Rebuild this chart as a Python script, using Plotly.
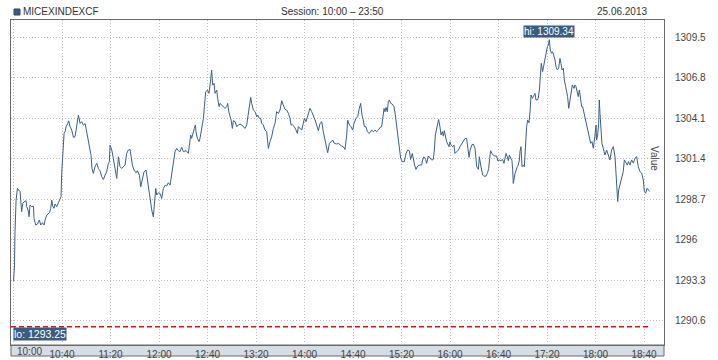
import plotly.graph_objects as go

# minutes since 10:00
t_min = [0, 0.8, 1.2, 2.1, 3.2, 4.0, 5.4, 5.9, 6.7, 7.6, 8.7, 10.3, 10.9, 12.0, 12.8, 13.6, 15.0, 16.4, 16.9, 18.3,
         19.7, 21.3, 22.4, 23.8, 25.2, 26.0, 27.4, 29.6, 30.7, 31.5, 32.3, 33.4, 34.2, 35.6, 37.0, 38.4, 39.2, 39.7, 40.6, 41.7,
         42.5, 43.3, 44.7, 45.5, 46.6, 48.0, 49.4, 50.7, 51.6, 52.7, 53.5, 54.9, 56.2, 57.6, 59.0, 59.8, 60.9, 62.0, 63.1, 63.9,
         64.7, 65.8, 67.2, 68.6, 70.0, 71.3, 72.7, 74.1, 75.5, 76.8, 78.2, 79.0, 79.6, 81.0, 82.3, 83.7, 85.1, 86.5, 87.8, 89.2,
         90.6, 92.0, 93.3, 94.7, 96.1, 96.9, 98.0, 99.4, 101.0, 102.1, 103.8, 104.9, 106.5, 107.6, 109.3, 110.4, 111.5, 112.6, 114.0, 115.3,
         116.2, 117.3, 118.1, 119.5, 120.8, 122.2, 123.6, 125.0, 126.3, 127.7, 129.1, 130.4, 131.8, 133.2, 134.6, 135.9, 137.3, 138.7, 140.1, 142.3,
         144.2, 145.0, 146.1, 146.9, 148.3, 149.1, 150.0, 150.5, 151.6, 153.0, 153.8, 155.2, 156.6, 157.4, 158.5, 159.9, 161.2, 162.1, 162.6, 163.4,
         164.3, 165.4, 166.2, 167.6, 168.4, 169.5, 170.3, 171.7, 173.1, 174.4, 175.8, 176.6, 177.5, 178.6, 179.4, 180.5, 181.3, 182.7, 184.1, 185.4,
         186.8, 188.2, 189.6, 190.9, 192.3, 193.7, 194.5, 195.6, 196.4, 197.8, 199.2, 200.6, 201.4, 202.7, 203.8, 204.7, 206.0, 207.4, 208.8, 210.2,
         211.5, 212.9, 214.3, 215.7, 217.0, 218.4, 219.8, 221.2, 222.5, 223.9, 225.3, 226.7, 228.0, 228.9, 230.2, 231.6, 233.0, 234.1, 234.9, 236.3,
         237.7, 239.0, 239.9, 241.2, 242.3, 243.2, 244.5, 245.9, 247.3, 248.7, 250.0, 251.4, 252.8, 254.2, 255.5, 256.9, 258.3, 259.1, 260.5, 261.9,
         263.2, 264.6, 266.5, 267.9, 269.3, 270.6, 272.0, 273.4, 274.8, 275.6, 277.0, 278.3, 279.7, 280.8, 282.5, 283.8, 285.2, 286.3, 287.4, 288.5,
         289.3, 290.7, 291.8, 293.2, 294.0, 295.4, 296.8, 298.1, 299.5, 300.9, 302.3, 303.6, 304.5, 305.6, 306.4, 307.2, 308.3, 309.1, 310.0, 311.1,
         312.4, 313.8, 314.9, 316.0, 317.1, 318.2, 319.3, 320.7, 322.3, 323.7, 325.1, 326.5, 327.5, 328.9, 329.7, 330.8, 331.9, 333.3, 335.2, 336.6,
         337.4, 338.5, 339.9, 340.7, 342.1, 343.5, 344.9, 346.2, 347.1, 347.9, 349.0, 349.8, 350.6, 351.7, 352.6, 353.7, 354.5, 355.3, 356.4, 357.2,
         358.1, 359.2, 360.0, 360.8, 362.2, 363.3, 364.1, 365.5, 366.9, 368.2, 369.6, 371.0, 372.4, 373.7, 374.6, 375.7, 376.5, 377.9, 379.2, 380.6,
         381.4, 382.0, 383.4, 384.2, 385.3, 386.1, 386.9, 388.0, 389.7, 390.8, 391.9, 392.7, 393.5, 394.6, 395.7, 397.1, 398.5, 399.3, 400.7, 402.0,
         403.4, 404.5, 405.3, 406.2, 407.3, 408.1, 408.9, 410.0, 411.1, 411.7, 412.2, 413.6, 414.4, 415.5, 416.3, 417.2, 417.7, 418.5, 419.4, 420.5,
         421.3, 422.1, 423.2, 424.0, 425.1, 426.0, 426.8, 427.9, 428.7, 430.1, 430.9, 432.0, 432.8, 433.7, 434.5, 435.3, 436.4, 437.5, 438.3, 439.2,
         440.3, 441.1, 441.9, 442.7, 443.8, 444.7, 445.8, 446.6, 447.4, 448.5, 449.6, 450.7, 451.5, 452.4, 453.5, 454.3, 455.4, 456.2, 457.0, 457.9,
         459.0, 459.8, 460.9, 462.3, 463.1, 463.9, 465.0, 465.8, 466.7, 467.5, 468.6, 469.4, 470.5, 471.6, 472.7, 474.1, 474.9, 476.0, 477.1, 478.2,
         479.6, 480.4, 480.9, 481.8, 482.6, 483.1, 483.7, 484.5, 485.3, 486.4, 487.8, 489.2, 490.6, 491.9, 493.3, 494.7, 496.1, 497.4, 498.3, 499.1,
         500.2, 501.6, 502.9, 503.8, 505.1, 506.2, 507.3, 508.4, 509.8, 511.2, 512.6, 513.9, 515.3, 516.7, 518.1, 519.4, 520.3, 521.4, 522.5, 523.6,
         524.7]

values = [1293.25, 1294.31, 1296.53, 1298.64, 1299.42, 1299.31, 1299.20, 1298.64, 1297.87, 1298.42, 1298.53, 1298.60, 1298.20, 1297.98, 1297.53, 1298.31, 1298.20, 1298.24, 1297.42, 1296.98,
          1297.04, 1297.31, 1296.98, 1297.13, 1296.98, 1297.31, 1297.64, 1297.80, 1298.09, 1298.64, 1298.24, 1298.09, 1298.38, 1298.20, 1298.47, 1298.69, 1298.87, 1300.42, 1301.98, 1303.09,
          1303.20, 1303.53, 1303.75, 1303.93, 1303.53, 1303.31, 1302.82, 1302.87, 1303.31, 1303.98, 1304.31, 1303.75, 1303.87, 1303.64, 1303.75, 1303.42, 1302.98, 1302.53, 1302.20, 1301.64,
          1300.75, 1300.42, 1300.87, 1301.09, 1300.75, 1300.60, 1300.20, 1300.02, 1300.31, 1300.53, 1301.09, 1301.20, 1302.31, 1301.98, 1301.42, 1300.87, 1300.09, 1301.53, 1300.87, 1300.75,
          1300.87, 1300.98, 1301.75, 1301.98, 1302.02, 1301.42, 1300.98, 1300.64, 1300.47, 1300.60, 1300.31, 1299.53, 1300.20, 1300.53, 1300.64, 1299.98, 1299.31, 1298.87, 1297.98, 1297.53,
          1298.42, 1299.42, 1298.98, 1299.13, 1299.09, 1298.75, 1299.42, 1299.64, 1299.58, 1299.80, 1299.64, 1300.42, 1301.31, 1301.87, 1302.09, 1301.94, 1301.87, 1302.16, 1301.87, 1301.94,
          1301.76, 1302.42, 1302.98, 1302.76, 1303.31, 1303.42, 1303.65, 1303.20, 1302.76, 1302.54, 1302.76, 1303.31, 1304.09, 1304.87, 1305.87, 1305.98, 1305.76, 1306.31, 1306.87, 1307.31,
          1306.31, 1306.42, 1305.76, 1305.98, 1305.42, 1304.87, 1305.09, 1304.98, 1304.82, 1304.76, 1304.87, 1305.09, 1304.54, 1304.20, 1303.98, 1303.42, 1303.94, 1303.87, 1303.54, 1303.65,
          1303.71, 1303.65, 1303.54, 1303.42, 1303.65, 1304.31, 1304.87, 1305.49, 1305.09, 1304.65, 1304.54, 1304.20, 1304.31, 1304.09, 1304.09, 1303.76, 1303.65, 1303.31, 1303.20, 1302.09,
          1302.54, 1302.87, 1303.42, 1303.76, 1304.54, 1304.42, 1304.65, 1305.27, 1304.98, 1304.69, 1304.65, 1304.42, 1304.09, 1303.65, 1303.65, 1303.54, 1303.31, 1303.09, 1303.54, 1303.42,
          1303.31, 1303.76, 1304.09, 1303.87, 1304.20, 1304.47, 1304.76, 1304.54, 1304.31, 1303.98, 1303.65, 1303.27, 1303.76, 1303.87, 1303.20, 1302.65, 1301.98, 1301.80, 1302.42, 1302.54,
          1302.65, 1302.42, 1302.38, 1302.42, 1302.31, 1302.25, 1302.20, 1302.02, 1302.98, 1303.98, 1303.65, 1303.54, 1303.31, 1303.76, 1304.09, 1304.20, 1304.76, 1305.09, 1304.31, 1303.98,
          1303.54, 1303.54, 1303.20, 1303.09, 1303.14, 1303.31, 1303.20, 1303.31, 1303.20, 1303.31, 1303.49, 1303.53, 1304.09, 1304.75, 1304.53, 1304.82, 1304.53, 1305.20, 1305.31, 1305.09,
          1305.04, 1304.87, 1304.31, 1303.53, 1302.75, 1302.09, 1301.42, 1301.20, 1301.20, 1301.75, 1301.98, 1301.93, 1301.35, 1301.75, 1301.31, 1300.98, 1300.69, 1300.91, 1300.98, 1300.98,
          1301.31, 1301.53, 1301.35, 1301.09, 1301.58, 1301.42, 1301.31, 1301.35, 1301.98, 1302.98, 1303.53, 1303.75, 1304.02, 1303.53, 1302.98, 1303.20, 1302.91, 1303.27, 1302.75, 1302.53,
          1302.38, 1302.20, 1302.53, 1302.31, 1302.20, 1302.31, 1301.75, 1301.87, 1301.98, 1302.20, 1302.42, 1302.60, 1302.75, 1302.75, 1302.31, 1301.49, 1301.93, 1302.31, 1302.38, 1302.09,
          1301.42, 1300.87, 1300.69, 1301.53, 1300.98, 1300.60, 1300.31, 1300.24, 1300.24, 1300.42, 1300.75, 1301.42, 1301.93, 1301.75, 1301.64, 1301.58, 1301.58, 1301.27, 1301.31, 1301.27,
          1301.35, 1301.09, 1301.42, 1301.75, 1301.53, 1301.27, 1301.64, 1301.42, 1301.27, 1300.64, 1299.75, 1300.42, 1300.69, 1300.87, 1300.98, 1301.31, 1301.87, 1302.20, 1300.87, 1300.98,
          1300.87, 1302.31, 1303.53, 1303.98, 1303.80, 1304.53, 1305.65, 1305.43, 1305.54, 1305.76, 1305.32, 1305.32, 1305.43, 1305.98, 1306.87, 1307.76, 1307.21, 1307.76, 1307.98, 1308.43,
          1308.87, 1308.98, 1309.34, 1308.65, 1308.43, 1308.54, 1308.21, 1307.98, 1307.54, 1307.32, 1307.43, 1308.09, 1307.76, 1307.32, 1307.43, 1306.65, 1306.21, 1305.87, 1305.54, 1304.76,
          1305.32, 1305.98, 1306.32, 1306.09, 1306.32, 1306.21, 1305.76, 1305.54, 1305.98, 1305.32, 1304.87, 1304.87, 1304.43, 1304.21, 1303.54, 1302.98, 1302.76, 1302.43, 1302.54, 1302.10,
          1302.98, 1303.65, 1302.65, 1302.98, 1303.76, 1305.32, 1304.43, 1303.43, 1302.43, 1302.10, 1301.65, 1301.98, 1301.54, 1301.32, 1301.98, 1302.21, 1301.54, 1299.87, 1298.54, 1299.32,
          1299.65, 1299.98, 1300.54, 1301.32, 1301.10, 1300.98, 1301.21, 1300.98, 1301.32, 1301.10, 1301.43, 1301.54, 1300.87, 1300.54, 1300.43, 1299.98, 1299.21, 1299.10, 1299.43, 1299.32,
          1299.21]

tick_minutes = [0, 40, 80, 120, 160, 200, 240, 280, 320, 360, 400, 440, 480, 520]
tick_labels = ["10:00", "10:40", "11:20", "12:00", "12:40", "13:20", "14:00",
               "14:40", "15:20", "16:00", "16:40", "17:20", "18:00", "18:40"]
y_ticks = [1290.6, 1293.3, 1296, 1298.7, 1301.4, 1304.1, 1306.8, 1309.5]
y_tick_labels = ["1290.6", "1293.3", "1296", "1298.7", "1301.4", "1304.1", "1306.8", "1309.5"]
ref_level = 1290.2
x_range = [-2.1, 536.5]
y_range = [1288.98, 1310.65]

title_text = "MICEXINDEXCF"
session_text = "Session: 10:00 \u2013 23:50"
date_text = "25.06.2013"

FONT = "Liberation Sans, Arial, sans-serif"
LINE = "#39608a"
BOX = "#3b5b7f"

hi = max(values)
lo = min(values)
hi_t = t_min[values.index(hi)]

fig = go.Figure()
fig.add_trace(go.Scatter(x=t_min, y=values, mode="lines",
                         line=dict(color=LINE, width=1), hoverinfo="skip"))
fig.add_trace(go.Scatter(x=[x_range[0], t_min[-1]], y=[ref_level, ref_level], mode="lines",
                         line=dict(color="#ff0000", width=1.5, dash="5px,3px"), hoverinfo="skip"))

fig.update_layout(
    width=718, height=360,
    margin=dict(l=11, r=54, t=20, b=15),
    paper_bgcolor="white", plot_bgcolor="white",
    showlegend=False,
    font=dict(family=FONT, size=10, color="#333"),
    xaxis=dict(range=x_range, tickvals=tick_minutes,
               ticktext=[""] + tick_labels[1:],
               showgrid=True, gridcolor="#bdbdbd", griddash="1px,2px", gridwidth=1,
               showline=True, linecolor="#6a6a6a", linewidth=1, mirror=True,
               ticks="", zeroline=False, automargin=False,
               tickfont=dict(family=FONT, size=10, color="#444")),
    yaxis=dict(range=y_range, side="right", tickvals=y_ticks, ticktext=y_tick_labels,
               showgrid=True, gridcolor="#bdbdbd", griddash="1px,2px", gridwidth=1,
               showline=True, linecolor="#6a6a6a", linewidth=1, mirror=True,
               ticks="", zeroline=False, ticklabelstandoff=8, automargin=False,
               tickfont=dict(family=FONT, size=10, color="#444")),
    shapes=[
        dict(type="rect", xref="paper", yref="paper", x0=0, x1=1, y0=-11 / 325, y1=0,
             fillcolor="#d6dde5", line=dict(color="#6a6a6a", width=1), layer="below"),
        dict(type="rect", xref="paper", yref="paper", x0=3 / 653, x1=9 / 653,
             y0=(345 - 15) / 325, y1=(345 - 9) / 325,
             fillcolor=BOX, line=dict(color="#2c4866", width=1)),
    ],
    annotations=[
        dict(text=title_text, xref="paper", yref="paper", x=10 / 653, y=(345 - 12) / 325,
             xanchor="left", yanchor="middle", showarrow=False,
             font=dict(family=FONT, size=10, color="#333")),
        dict(text=session_text, xref="paper", yref="paper", x=321 / 653, y=(345 - 12) / 325,
             xanchor="center", yanchor="middle", showarrow=False,
             font=dict(family=FONT, size=10, color="#333")),
        dict(text=date_text, xref="paper", yref="paper", x=638 / 653, y=(345 - 12) / 325,
             xanchor="right", yanchor="middle", showarrow=False,
             font=dict(family=FONT, size=10, color="#333")),
        dict(text="Value", xref="paper", yref="paper", x=644 / 653, y=(345 - 158) / 325,
             xanchor="center", yanchor="middle", textangle=90, showarrow=False,
             font=dict(family=FONT, size=10, color="#444")),
        dict(text=tick_labels[0], xref="x", yref="paper", x=tick_minutes[0], y=-6 / 325,
             xanchor="left", yanchor="middle", xshift=1, showarrow=False,
             font=dict(family=FONT, size=10, color="#444")),
        dict(text=f"hi: {hi:.2f}", x=hi_t, y=hi, xref="x", yref="y",
             xanchor="center", yanchor="bottom", yshift=2, showarrow=False,
             bgcolor=BOX, borderpad=0, font=dict(family=FONT, size=10, color="white")),
        dict(text=f"lo: {lo:.2f}", xref="paper", yref="paper", x=2 / 653, y=11 / 325,
             xanchor="left", yanchor="middle", showarrow=False,
             bgcolor=BOX, borderpad=0, font=dict(family=FONT, size=10.5, color="white")),
    ],
)

fig.write_html("out.html", config={"displayModeBar": False},
               post_script="document.body.style.margin='0';")
